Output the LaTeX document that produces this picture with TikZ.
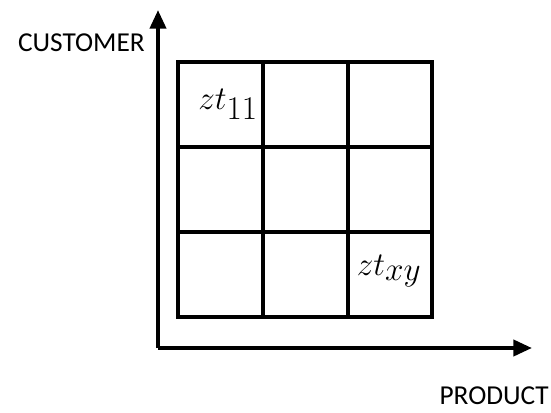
\documentclass[tikz,border=0pt]{standalone}
\usepackage{fontspec}
\setmainfont{Carlito}
\DeclareMathSizes{29}{29}{23}{18}
\usetikzlibrary{arrows.meta}
\begin{document}
\begin{tikzpicture}[x=0.75pt,y=-0.75pt,
  gridline/.style={line width=3pt},
  axis/.style={line width=3pt,-{Triangle[length=14pt,width=12pt]}},
  axlabel/.style={font=\fontsize{20.5}{24}\selectfont,inner sep=0pt},
  cell/.style={font=\fontsize{29}{32}\selectfont,inner sep=0pt}]
\useasboundingbox (0,0) rectangle (551,412);
\coordinate (o) at (158,348);
\coordinate (ytip) at (158,10);
\coordinate (xtip) at (532,348);
\draw[gridline] (178,62) rectangle (432,317);
\draw[gridline] (263,62) -- (263,317) (348,62) -- (348,317);
\draw[gridline] (178,147) -- (432,147) (178,232) -- (432,232);
\draw[axis] (o) -- (ytip);
\draw[axis] (o) -- (xtip);
\node[axlabel,anchor=east] (cust) at (145,43) {CUSTOMER};
\node[axlabel,anchor=east] (prod) at (549,396) {PRODUCT};
\node[cell] (z11) at (228,104) {$zt_{11}$};
\node[cell] (zxy) at (389,271) {$zt_{xy}$};
\end{tikzpicture}
\end{document}
